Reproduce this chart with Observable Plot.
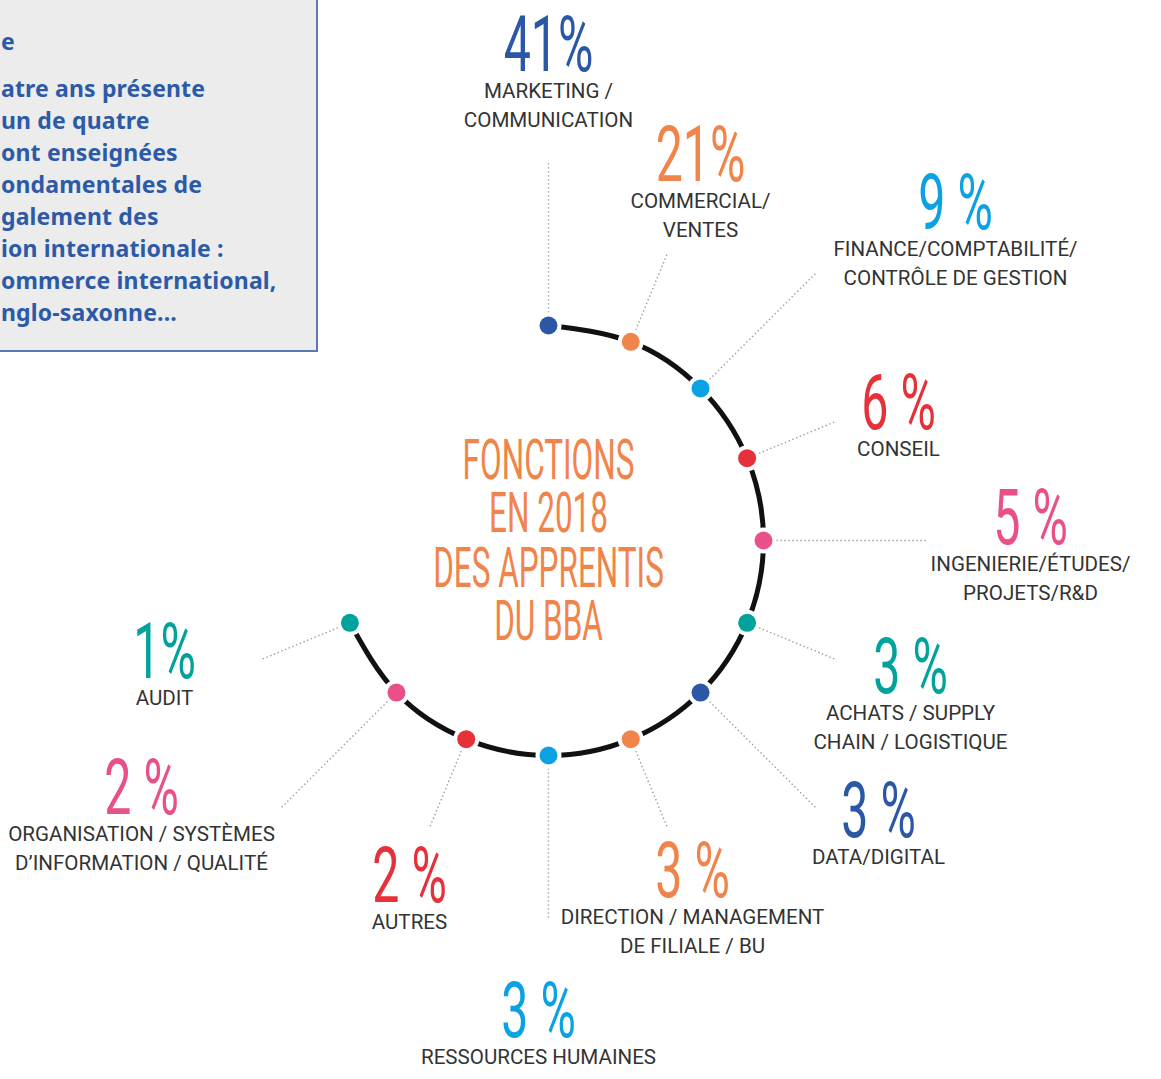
<!DOCTYPE html>
<html>
<head>
<meta charset="utf-8">
<script src="https://cdn.jsdelivr.net/npm/d3@7"></script>
<script src="https://cdn.jsdelivr.net/npm/@observablehq/plot@0.6"></script>
<style>
  html, body { margin: 0; padding: 0; background: #ffffff; }
  #wrap { position: relative; width: 1161px; height: 1079px; overflow: hidden; }
  #box { position: absolute; left: -20px; top: -20px; width: 338px; height: 372px;
         background: #ececec; border: 2px solid #5a78b4; box-sizing: border-box; }
  .bl { position: absolute; left: 19px; white-space: nowrap; font-family: "Noto Sans", sans-serif;
        font-weight: 700; font-size: 23px; color: #2c5aa6; letter-spacing: 0.15px; }
  #chart { position: absolute; left: 0; top: 0; }
</style>
</head>
<body>
<div id="wrap"><div id="box"></div><div id="chart"></div></div>
<script>
// ---- data ----
const categories = [
  "MARKETING /\nCOMMUNICATION",
  "COMMERCIAL/\nVENTES",
  "FINANCE/COMPTABILITÉ/\nCONTRÔLE DE GESTION",
  "CONSEIL",
  "INGENIERIE/ÉTUDES/\nPROJETS/R&D",
  "ACHATS / SUPPLY\nCHAIN / LOGISTIQUE",
  "DATA/DIGITAL",
  "DIRECTION / MANAGEMENT\nDE FILIALE / BU",
  "RESSOURCES HUMAINES",
  "AUTRES",
  "ORGANISATION / SYSTÈMES\nD’INFORMATION / QUALITÉ",
  "AUDIT"
];
const values = [41, 21, 9, 6, 5, 3, 3, 3, 3, 2, 2, 1];
const valueLabels = ["41%", "21%", "9 %", "6 %", "5 %", "3 %", "3 %", "3 %", "3 %", "2 %", "2 %", "1%"];
const titleLines = ["FONCTIONS", "EN 2018", "DES APPRENTIS", "DU BBA"];
const boxLines = ["e", "atre ans présente", "un de quatre", "ont enseignées", "ondamentales de",
  "galement des", "ion internationale :", "ommerce international,", "nglo-saxonne..."];

// ---- layout (not data) ----
const palette = ["#2b58a6", "#f0844a", "#0aa2e3", "#e5323a", "#e9508a", "#00a39c"];
const R = 215;                  // ring radius in px
const cx = 548, cy = 540;       // ring centre in px
const stepDeg = 22.5;           // angular spacing of the dots
const leaderEnd = [380, 312];   // alternating leader lengths (px from centre)
const labelOffset = [           // label anchor (px from ring centre)
  [0, -470], [152, -360], [407, -312], [350, -112], [482, 3], [362, 152],
  [330, 296], [144, 356], [-10, 496], [-139, 361], [-407, 273], [-384, 137]
];
const titleBaselines = [-62, -9, 46, 99]; // px from ring centre

// box text (html)
const box = document.getElementById("box");
const boxY = [48, 95, 127, 159, 191, 223, 255, 287, 319];
boxLines.forEach((t, i) => {
  const d = document.createElement("div");
  d.className = "bl";
  d.textContent = t;
  d.style.top = (boxY[i] + 20 - 25) + "px";
  box.appendChild(d);
});

const rows = categories.map((c, i) => {
  const a = i * stepDeg * Math.PI / 180;
  const s = Math.sin(a), co = Math.cos(a);
  const le = leaderEnd[i % 2] / R;
  return {
    category: c, value: values[i], label: valueLabels[i],
    color: palette[i % palette.length],
    x: s, y: co,
    x1: 1.06 * s, y1: 1.06 * co, x2: le * s, y2: le * co,
    lx: labelOffset[i][0] / R, ly: -labelOffset[i][1] / R
  };
});
const titleRows = titleLines.map((t, i) => ({text: t, x: 0, y: -titleBaselines[i] / R}));

const plot = Plot.plot({
  width: 1161, height: 1079, margin: 0,
  x: {domain: [-cx / R, (1161 - cx) / R], axis: null},
  y: {domain: [-(1079 - cy) / R, cy / R], axis: null},
  style: {background: "transparent", overflow: "visible"},
  marks: [
    Plot.link(rows, {x1: "x1", y1: "y1", x2: "x2", y2: "y2", stroke: "#9c9c9c",
      strokeWidth: 1.4, strokeDasharray: "1.4,2.6"}),
    Plot.line(rows, {x: "x", y: "y", curve: "natural", stroke: "#111", strokeWidth: 5}),
    Plot.dot(rows, {x: "x", y: "y", r: 13, fill: "white"}),
    Plot.dot(rows, {x: "x", y: "y", r: 9, fill: d => d.color}),
    Plot.text(rows, {x: "lx", y: "ly", text: "label", fill: d => d.color, lineAnchor: "bottom",
      fontSize: 70, fontFamily: "Roboto", fontWeight: 400}),
    Plot.text(rows, {x: "lx", y: "ly", text: "category", fill: "#333333", lineAnchor: "top",
      dy: 7, fontSize: 21, lineHeight: 1.38, fontFamily: "Roboto", fontWeight: 400}),
    Plot.text(titleRows, {x: "x", y: "y", text: "text", fill: "#f0844a", lineAnchor: "bottom",
      fontSize: 50, fontFamily: "Roboto", fontWeight: 400})
  ]
});
document.getElementById("chart").appendChild(plot);

const textGroups = plot.querySelectorAll('g[aria-label="text"]');
const condense = (g, kx, ky) => g.querySelectorAll("text").forEach(t => {
  const tr = t.getAttribute("transform") || "";
  t.setAttribute("transform", tr + ` scale(${kx},${ky})`);
});
condense(textGroups[0], 0.69, 1.1);
condense(textGroups[1], 0.98, 1);
condense(textGroups[2], 0.63, 1.12);
</script>
</body>
</html>
